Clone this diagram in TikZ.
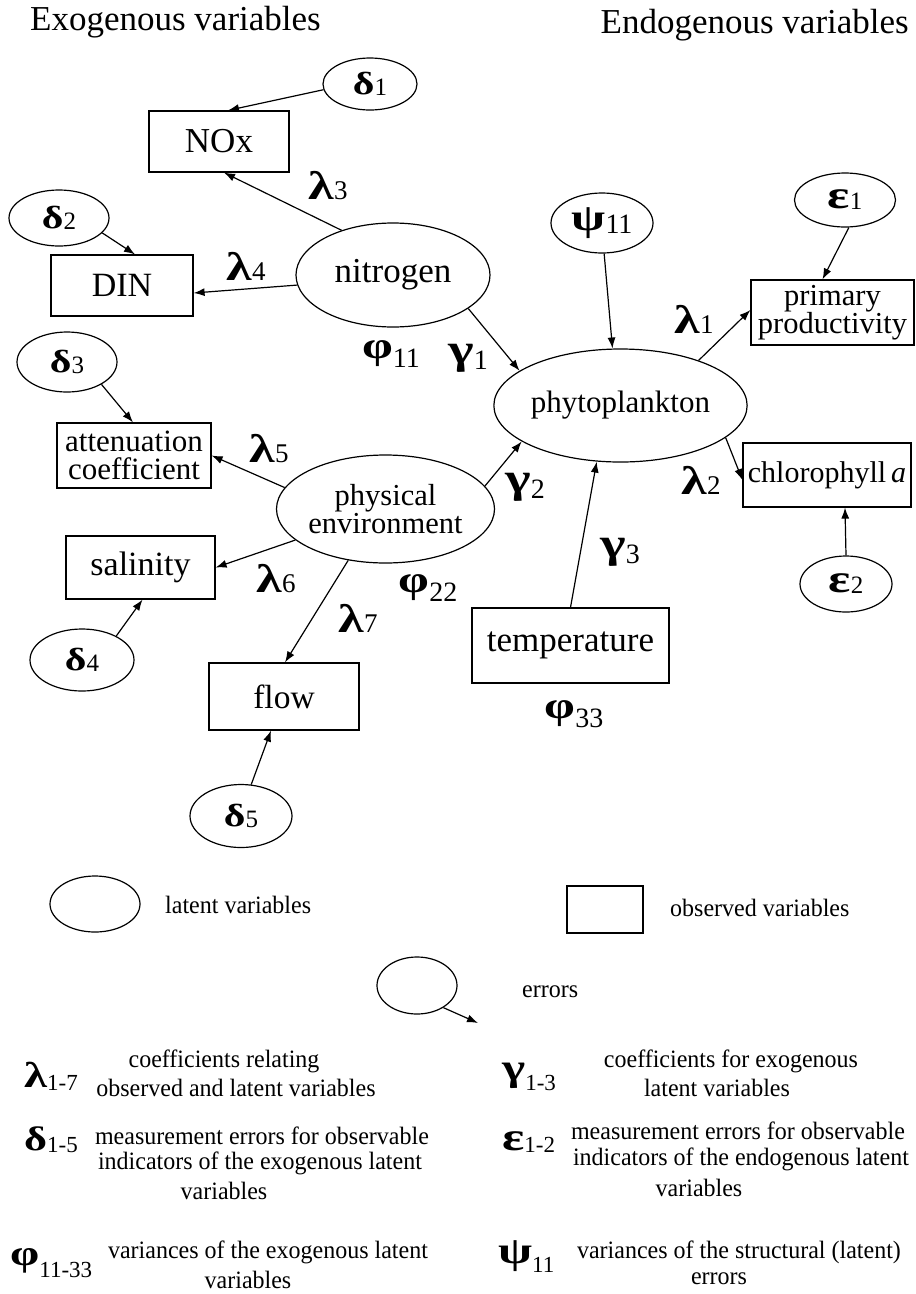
\documentclass[tikz,border=0pt]{standalone}
\usepackage{fontspec}
\setmainfont{Liberation Serif}
\newfontfamily\gkf[FakeStretch=1.3]{Liberation Serif}
\newfontfamily\legf[FakeStretch=0.96]{Liberation Serif}
\usetikzlibrary{shapes.geometric,arrows.meta,calc}
\newcommand{\fs}[1]{\fontsize{#1}{#1}\selectfont}
% #1 letter size, #2 letter, #3 digit size, #4 digits, #5 raise
\newcommand{\gsym}[5]{{\gkf\bfseries\fs{#1}#2}\raisebox{#5}{\fs{#3}#4}}
\begin{document}
\begin{tikzpicture}[x=1pt,y=-1pt,
  lat/.style={ellipse,draw,line width=1.2pt,inner sep=0pt,align=center},
  obs/.style={rectangle,draw,line width=1.2pt,inner sep=0pt,align=center},
  err/.style={ellipse,draw,line width=1.2pt,inner sep=0pt},
  arr/.style={-{Latex[length=11pt,width=8pt]},line width=1.2pt},
  lbl/.style={inner sep=0pt},
  leg/.style={inner sep=0pt,font=\legf\fs{25}}]
\fill[white] (0,0) rectangle (916,1294);
\path[use as bounding box] (0,0) rectangle (916,1294);

% titles
\node[lbl,anchor=base west] (tex) at (30,30) {\fs{35}Exogenous variables};
\node[lbl,anchor=base east] (ten) at (909,33) {\fs{35}Endogenous variables};

% error ellipses
\node[err,minimum width=94pt,minimum height=52pt] (d1) at (370,84) {\gsym{32}{δ}{25}{1}{-1pt}};
\node[err,minimum width=100pt,minimum height=56pt] (d2) at (59,218) {\gsym{32}{δ}{25}{2}{-1pt}};
\node[err,minimum width=100pt,minimum height=60pt] (d3) at (67,362) {\gsym{32}{δ}{25}{3}{-1pt}};
\node[err,minimum width=104pt,minimum height=62pt] (d4) at (82,660) {\gsym{32}{δ}{25}{4}{-1pt}};
\node[err,minimum width=102pt,minimum height=63pt] (d5) at (241,816) {\gsym{32}{δ}{25}{5}{-1pt}};
\node[err,minimum width=102pt,minimum height=60pt] (psi) at (602,223) {\gsym{38}{ψ}{28}{11}{-3pt}};
\node[err,minimum width=101pt,minimum height=54pt] (e1) at (845,200) {\gsym{40}{ε}{25}{1}{-1pt}};
\node[err,minimum width=92pt,minimum height=56pt] (e2) at (846,584) {\gsym{40}{ε}{25}{2}{-1pt}};

% observed
\node[obs,minimum width=140pt,minimum height=61pt,font=\fs{35}] (nox) at (219,141.5) {NOx};
\node[obs,minimum width=142pt,minimum height=61pt,font=\fs{34}] (din) at (122,285.5) {DIN};
\node[obs,minimum width=154pt,minimum height=65pt,font=\fontsize{31}{28}\selectfont] (att) at (134,455.5) {attenuation\\coefficient};
\node[obs,minimum width=149pt,minimum height=63pt,font=\fs{34}] (sal) at (140.5,567.5) {salinity};
\node[obs,minimum width=150pt,minimum height=67pt,font=\fs{33.5}] (flow) at (284,696.5) {flow};
\node[obs,minimum width=163pt,minimum height=65pt,font=\fontsize{30.5}{28}\selectfont] (prim) at (832.5,312.5) {primary\\productivity};
\node[obs,minimum width=168pt,minimum height=64pt,font=\fs{30}] (chl) at (827,475) {chlorophyll\,\textit{a}};
\node[obs,minimum width=197pt,minimum height=75pt,font=\fs{35}] (temp) at (570.5,645.5) {temperature};

% latent
\node[lat,minimum width=194pt,minimum height=104pt,font=\fs{35}] (nit) at (393,275) {nitrogen};
\node[lat,minimum width=205pt,minimum height=113pt,font=\fs{31}] (phy) at (620.5,405.5) {phytoplankton};
\node[lat,minimum width=195pt,minimum height=108pt,font=\fontsize{30.5}{28}\selectfont] (phys) at (385.5,509) {physical\\environment};

% connectors
\draw[arr] (d1.187) -- ($(nox.north)+(9,0)$);
\draw[arr] (nit.139) -- ($(nox.south)+(5,0)$);
\draw[arr] (nit.186) -- ($(din.east)+(0,7.5)$);
\draw[arr] (d2.341) -- ($(din.north)+(13,0)$);
\draw[arr] (nit.336) -- (phy.161);
\draw[arr] (psi.274) -- (phy.98);
\draw[arr] (phy.30) -- ($(prim.west)+(0,-2.5)$);
\draw[arr] (e1.278) -- ($(prim.north)+(-10,0)$);
\draw[arr] (phy.-17) -- ($(chl.west)+(0,5)$);
\draw[arr] (e2.90) -- ($(chl.south)+(18,0)$);
\draw[arr] (d3.327) -- ($(att.north)+(-1,0)$);
\draw[arr] (phys.168) -- (att.east);
\draw[arr] (phys.199) -- (sal.east);
\draw[arr] (d4.35) -- ($(sal.south)+(2,0)$);
\draw[arr] (phys.234) -- ($(flow.north)+(1,0)$);
\draw[arr] (d5.72) -- ($(flow.south)+(-13,0)$);
\draw[arr] (phys.13) -- (phy.200);
\draw[arr] (temp.north) -- (phy.247);

% coefficient labels
\node[lbl] (l1) at (694,319) {\gsym{40}{λ}{27}{1}{0pt}};
\node[lbl] (l2) at (701,480) {\gsym{40}{λ}{27}{2}{0pt}};
\node[lbl] (l3) at (328,186) {\gsym{40}{λ}{27}{3}{0pt}};
\node[lbl] (l4) at (246,266) {\gsym{40}{λ}{27}{4}{0pt}};
\node[lbl] (l5) at (269,449) {\gsym{40}{λ}{27}{5}{0pt}};
\node[lbl] (l6) at (276,579) {\gsym{40}{λ}{27}{6}{0pt}};
\node[lbl] (l7) at (358,618) {\gsym{40}{λ}{27}{7}{0pt}};
\node[lbl] (g1) at (468,358) {\gsym{42}{γ}{28}{1}{-6pt}};
\node[lbl] (g2) at (525,487) {\gsym{42}{γ}{28}{2}{-6pt}};
\node[lbl] (g3) at (620,552) {\gsym{42}{γ}{28}{3}{-6pt}};
\node[lbl] (p11) at (391,354) {\gsym{38}{φ}{28}{11}{-9pt}};
\node[lbl] (p22) at (428,588) {\gsym{38}{φ}{28}{22}{-9pt}};
\node[lbl] (p33) at (574,714) {\gsym{38}{φ}{28}{33}{-9pt}};

% legend shapes
\node[lat,minimum width=90pt,minimum height=56pt] (leglat) at (95,904) {};
\node[leg,anchor=west] (leglatt) at (165,905) {latent variables};
\node[obs,minimum width=76pt,minimum height=47pt] (legobs) at (605,909.5) {};
\node[leg,anchor=west] (legobst) at (670,908) {observed variables};
\node[err,minimum width=80pt,minimum height=57pt] (legerr) at (417,985.5) {};
\coordinate (legtip) at (478,1023);
\draw[arr] (legerr.-40) -- (legtip);
\node[leg,anchor=west] (legerrt) at (522,992) {errors};

% legend symbols
\node[lbl,anchor=base west] (sl) at (24,1087) {\gsym{36}{λ}{23}{1-7}{-3pt}};
\node[lbl,anchor=base west] (sg) at (502,1080) {\gsym{38}{γ}{23}{1-3}{-10pt}};
\node[lbl,anchor=base west] (sd) at (24,1150) {\gsym{34}{δ}{23}{1-5}{-2pt}};
\node[lbl,anchor=base west] (se) at (502,1150) {\gsym{40}{ε}{23}{1-2}{-2pt}};
\node[lbl,anchor=base west] (sp) at (10,1265) {\gsym{36}{φ}{23}{11-33}{-12pt}};
\node[lbl,anchor=base west] (ss) at (498,1263) {\gsym{38}{ψ}{23}{11}{-9pt}};

% legend texts
\node[leg] (t1a) at (224,1061) {coefficients relating};
\node[leg] (t1b) at (236,1088) {observed and latent variables};
\node[leg] (t2a) at (731,1061) {coefficients for exogenous};
\node[leg] (t2b) at (717,1088) {latent variables};
\node[leg] (t3a) at (262,1136) {measurement errors for observable};
\node[leg] (t3b) at (260,1163) {indicators of the exogenous latent};
\node[leg] (t3c) at (224,1191) {variables};
\node[leg] (t4a) at (738,1131) {measurement errors for observable};
\node[leg] (t4b) at (741,1159) {indicators of the endogenous latent};
\node[leg] (t4c) at (699,1188) {variables};
\node[leg] (t5a) at (268,1252) {variances of the exogenous latent};
\node[leg] (t5b) at (248,1280) {variables};
\node[leg] (t6a) at (739,1252) {variances of the structural (latent)};
\node[leg] (t6b) at (719,1279) {errors};
\end{tikzpicture}
\end{document}
